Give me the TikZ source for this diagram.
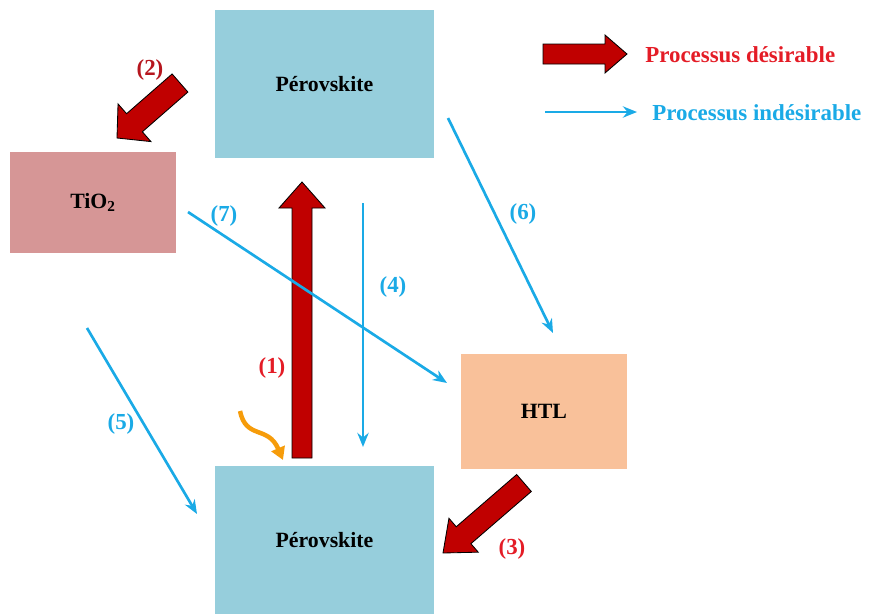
\documentclass[tikz,border=0pt]{standalone}
\usepackage{fontspec}
\setmainfont{Liberation Serif}
\usetikzlibrary{arrows.meta,calc}

\definecolor{peroblue}{RGB}{150,206,220}
\definecolor{tiorose}{RGB}{214,150,150}
\definecolor{htlpeach}{RGB}{249,193,154}
\definecolor{darkred}{RGB}{192,0,0}
\definecolor{labred}{RGB}{228,28,38}
\definecolor{labblue}{RGB}{26,170,230}
\definecolor{sunorange}{RGB}{246,156,10}

% fat block arrow: start, tip, half shaft, half head, head length
\newcommand\fatarrow[5]{%
  \coordinate (neck) at ($(#2)!#5!(#1)$);
  \draw[fat] ($(#1)!#3!90:(#2)$) -- ($(neck)!#3!90:(#2)$) -- ($(neck)!#4!90:(#2)$)
    -- (#2) -- ($(neck)!#4!-90:(#2)$) -- ($(neck)!#3!-90:(#2)$) -- ($(#1)!#3!-90:(#2)$) -- cycle;
}

\begin{document}
\begin{tikzpicture}
[x=0.025cm,y=-0.025cm,
 box/.style={inner sep=0pt,font=\fontsize{15.5}{18}\selectfont\bfseries},
 fat/.style={draw=black,line width=0.6pt,fill=darkred,line join=miter},
 bad/.style={draw=labblue,line width=1.9pt,arrows={-Stealth[length=10pt,width=8pt]}},
 redlab/.style={text=labred,font=\fontsize{16.3}{19}\selectfont\bfseries},
 bluelab/.style={text=labblue,font=\fontsize{16.3}{19}\selectfont\bfseries}]
\useasboundingbox (0,0) rectangle (869,614);

\node[box,fill=peroblue,minimum width=5.475cm,minimum height=3.7cm] (perotop) at (324.5,84) {Pérovskite};
\node[box,fill=peroblue,minimum width=5.475cm,minimum height=3.7cm] (perobot) at (324.5,540) {Pérovskite};
\node[box,fill=tiorose,minimum width=4.15cm,minimum height=2.525cm] (tio) at (93,202.5) {TiO\textsubscript{2}};
\node[box,fill=htlpeach,minimum width=4.15cm,minimum height=2.875cm] (htl) at (544,411.5) {HTL};

% desirable
\coordinate (a1) at (302,458);
\coordinate (b1) at (302,182);
\coordinate (a2) at (180,83);
\coordinate (b2) at (117,138);
\coordinate (a3) at (524,483);
\coordinate (b3) at (443,553);
\coordinate (ka) at (543,54);
\coordinate (kb) at (627,54);
\fatarrow{a1}{b1}{0.25cm}{0.575cm}{0.65cm}
\fatarrow{a2}{b2}{0.3cm}{0.625cm}{0.58cm}
\fatarrow{a3}{b3}{0.28cm}{0.56cm}{0.68cm}
\fatarrow{ka}{kb}{0.25cm}{0.475cm}{0.55cm}

% undesirable
\coordinate (a4) at (363,203);
\coordinate (b4) at (363,447);
\coordinate (a5) at (87,328);
\coordinate (b5) at (197,514);
\coordinate (a6) at (448,118);
\coordinate (b6) at (553,333);
\coordinate (a7) at (188,212);
\coordinate (b7) at (447,383);
\coordinate (kc) at (545,112);
\coordinate (kd) at (637,112);
\draw[bad] (a4) -- (b4);
\draw[bad] (a5) -- (b5);
\draw[bad] (a6) -- (b6);
\draw[bad] (a7) -- (b7);
\draw[bad] (kc) -- (kd);

% light
\coordinate (sa) at (240,411);
\coordinate (sb) at (283,460);
\draw[sunorange,line width=3.2pt,arrows={-Triangle[length=9pt,width=10pt]}]
  (sa) .. controls (246,440) and (268,425) .. (sb);

\node[redlab] (l1) at (272,368) {(1)};
\node[redlab,text=labred!80!black] (l2) at (150,70) {(2)};
\node[redlab] (l3) at (512,549) {(3)};
\node[bluelab] (l4) at (393,287) {(4)};
\node[bluelab] (l5) at (121,424) {(5)};
\node[bluelab] (l6) at (523,214) {(6)};
\node[bluelab] (l7) at (224,216) {(7)};
\node[redlab,anchor=west,inner sep=0pt] (kdes) at (645,55) {Processus désirable};
\node[bluelab,anchor=west,inner sep=0pt] (kind) at (652,113) {Processus indésirable};

\end{tikzpicture}
\end{document}
